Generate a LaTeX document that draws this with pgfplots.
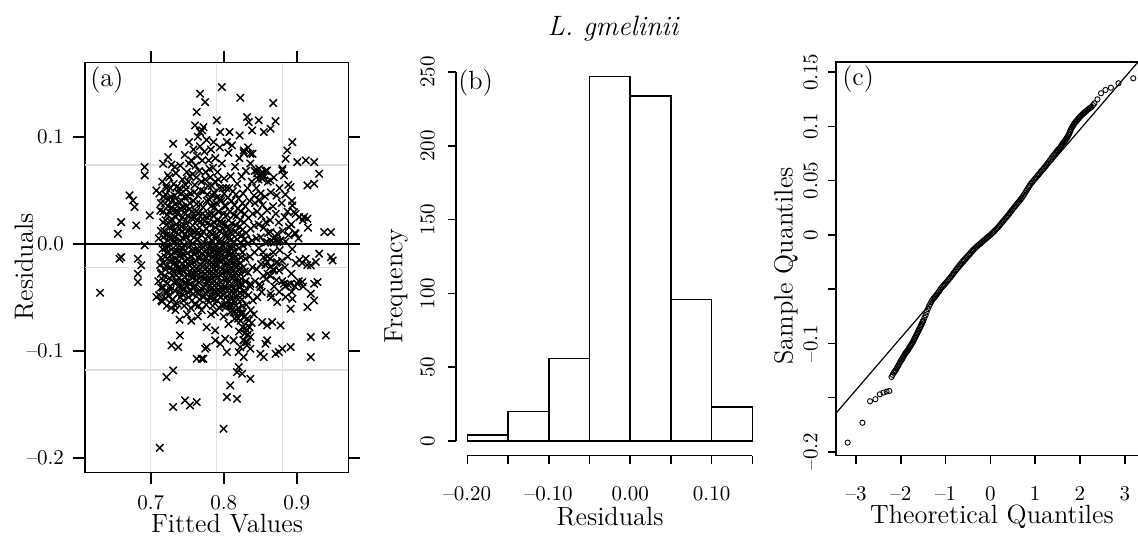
\documentclass[border=0pt]{standalone}
\usepackage{pgfplots}
\pgfplotsset{compat=1.18}
\newcommand{\tickfont}{\fontsize{10.5}{12}\selectfont}
\newcommand{\labfont}{\fontsize{13.2}{15}\selectfont}
\begin{document}
\begin{tikzpicture}
\useasboundingbox (0,0) rectangle (569pt,268pt);
\pgfplotsset{
  every axis/.append style={
    scale only axis, anchor=south west,
    axis line style={line width=0.8pt},
    tick style={black, line width=0.8pt},
    tick label style={font=\tickfont},
    tick align=outside,
  }
}

% (a) residuals against fitted values
\begin{axis}[
  at={(42.5pt,31.85pt)}, width=131.65pt, height=204.8pt,
  xmin=0.61, xmax=0.9707, ymin=-0.2136, ymax=0.1692,
  tick pos=both, major tick length=6pt,
  xtick={0.7,0.8,0.9}, xticklabels={0.7,0.8,0.9},
  ytick={-0.2,-0.1,0,0.1}, yticklabels={--0.2,--0.1,0.0,0.1},
  xticklabel shift=2pt, yticklabel shift=1pt,
]
\draw[black!12, line width=0.6pt] (axis cs:0.70,-0.2136) -- (axis cs:0.70,0.1692);
\draw[black!12, line width=0.6pt] (axis cs:0.79,-0.2136) -- (axis cs:0.79,0.1692);
\draw[black!12, line width=0.6pt] (axis cs:0.88,-0.2136) -- (axis cs:0.88,0.1692);
\draw[black!12, line width=0.6pt] (axis cs:0.61,0.0735) -- (axis cs:0.9707,0.0735);
\draw[black!12, line width=0.6pt] (axis cs:0.61,-0.0225) -- (axis cs:0.9707,-0.0225);
\draw[black!12, line width=0.6pt] (axis cs:0.61,-0.118) -- (axis cs:0.9707,-0.118);
\draw[line width=0.8pt] (axis cs:0.61,0) -- (axis cs:0.9707,0);
\addplot[only marks, mark=x, mark size=2.6pt, mark options={line width=0.72pt}] coordinates {
(0.7975,0.1464) (0.7676,0.1402) (0.7745,0.1324) (0.7630,0.1231) (0.7607,0.1106) (0.7676,0.1044) (0.7722,0.1090) (0.7906,0.1153) (0.8228,0.1364) (0.8678,0.1315)
(0.8320,0.1184) (0.8343,0.1137) (0.8480,0.1153) (0.8389,0.1059) (0.8549,0.1044) (0.8710,0.1146) (0.8641,0.1075) (0.8080,0.1044) (0.8218,0.1012) (0.7952,0.1044)
(0.8044,0.0950) (0.8113,0.0919) (0.7860,0.0950) (0.7308,0.0935) (0.7239,0.0810) (0.7170,0.0748) (0.7331,0.0717) (0.6917,0.0717) (0.6917,0.0639)
(0.8940,0.0950) (0.8871,0.0872) (0.8848,0.0794) (0.9009,0.0763) (0.9124,0.0779) (0.9239,0.0763) (0.9308,0.0654) (0.9147,0.0545) (0.9239,0.0561)
(0.8274,0.0872) (0.8366,0.0841) (0.8802,0.0685) (0.8825,0.0639)
(0.8457,0.0685) (0.8503,0.0654) (0.8549,0.0639) (0.8595,0.0685) (0.8526,0.0607) (0.8641,0.0592) (0.8917,0.0530)
(0.8940,0.0358) (0.8963,0.0296) (0.9101,0.0249) (0.9147,0.0234) (0.9377,0.0109) (0.9469,0.0109) (0.8894,0.0156) (0.8986,0.0093)
(0.9308,-0.0093) (0.9469,-0.0125) (0.9492,-0.0156) (0.9124,-0.0140) (0.9193,-0.0202) (0.9262,-0.0171)
(0.6710,0.0452) (0.6756,0.0405) (0.6779,0.0343) (0.6595,0.0202) (0.6550,0.0093) (0.6802,0.0171) (0.6986,0.0265) (0.7078,0.0498) (0.7216,0.0545)
(0.6572,-0.0140) (0.6595,-0.0125) (0.6825,-0.0140) (0.6871,-0.0202) (0.6825,-0.0280) (0.6825,-0.0358) (0.6917,-0.0015) (0.6306,-0.0458)
(0.7078,-0.0498) (0.7147,-0.0530)
(0.7400,-0.0857) (0.7285,-0.0950) (0.7377,-0.0966) (0.7745,-0.0981) (0.7630,-0.1075) (0.7699,-0.1075) (0.7883,-0.0810) (0.7883,-0.0903)
(0.7216,-0.1246) (0.7308,-0.1184) (0.7308,-0.1526) (0.7469,-0.1464) (0.7538,-0.1511) (0.7630,-0.1480) (0.7124,-0.1907)
(0.7952,-0.0935) (0.8021,-0.0888) (0.8136,-0.0903) (0.8228,-0.0966) (0.8320,-0.0919) (0.8366,-0.0981) (0.8274,-0.1059) (0.8205,-0.1012)
(0.8205,-0.1153) (0.8182,-0.1199) (0.8251,-0.1215) (0.8366,-0.1262) (0.8090,-0.1324) (0.8044,-0.1433) (0.8182,-0.1449) (0.7998,-0.1729)
(0.8044,-0.1012) (0.7768,-0.0966) (0.7722,-0.1075)
(0.8595,-0.0903) (0.8503,-0.1028) (0.8549,-0.1059) (0.8572,-0.0935) (0.8710,-0.1028) (0.8756,-0.1012) (0.8917,-0.0966) (0.8802,-0.0981)
(0.9193,-0.1059) (0.9193,-0.0872) (0.9400,-0.0857)
(0.9147,-0.0592) (0.9239,-0.0530) (0.9193,-0.0467) (0.9239,-0.0374) (0.9285,-0.0358)
(0.8825,-0.0374) (0.8917,-0.0374) (0.9009,-0.0374) (0.9078,-0.0358)
(0.8917,-0.0607) (0.8940,-0.0514) (0.8848,-0.0498) (0.8733,-0.0545) (0.8779,-0.0763) (0.8664,-0.0732) (0.8595,-0.0763) (0.8526,-0.0732)
(0.8641,-0.0467) (0.8366,-0.0374) (0.8503,-0.0405) (0.8228,-0.0374)
(0.8343,-0.0717) (0.8320,-0.0810) (0.8366,-0.0872) (0.8274,-0.0903) (0.8320,-0.0950) (0.8274,-0.0685) (0.8251,-0.0654)
(0.8641,0.0109) (0.8687,0.0047) (0.8733,0.0016) (0.8779,0.0031) (0.8733,0.0093) (0.8595,0.0016)
(0.8550,-0.0125) (0.8595,-0.0171) (0.8640,-0.0218) (0.8687,-0.0250) (0.8733,-0.0171)
(0.7115,-0.048) (0.7128,-0.020) (0.7110,0.005) (0.7132,0.031) (0.7120,0.047) (0.7105,-0.035)
(0.7158,0.058) (0.7170,0.020) (0.7162,-0.005) (0.7150,-0.027) (0.7168,-0.041) (0.7155,-0.054)
(0.7195,0.038) (0.7185,0.012) (0.7200,-0.012) (0.7190,-0.030) (0.7182,0.000) (0.7198,-0.045)
(0.7215,0.052) (0.7228,0.027) (0.7218,0.008) (0.7225,-0.008) (0.7212,-0.021) (0.7230,-0.037) (0.7220,-0.058) (0.7226,0.018)
(0.7255,0.062) (0.7245,0.041) (0.7258,0.015) (0.7248,-0.003) (0.7252,-0.016) (0.7260,-0.032) (0.7243,-0.049) (0.7250,0.030)
(0.7285,0.074) (0.7275,0.044) (0.7288,0.023) (0.7278,0.005) (0.7282,-0.010) (0.7290,-0.025) (0.7273,-0.043) (0.7280,-0.060) (0.7286,0.034)
(0.7315,0.056) (0.7305,0.031) (0.7318,0.012) (0.7308,-0.004) (0.7312,-0.019) (0.7320,-0.036) (0.7303,-0.052) (0.7310,0.001)
(0.7345,0.066) (0.7335,0.037) (0.7348,0.018) (0.7338,0.002) (0.7342,-0.014) (0.7350,-0.029) (0.7333,-0.044) (0.7340,-0.062) (0.7346,0.025)
(0.7375,0.048) (0.7365,0.028) (0.7378,0.009) (0.7368,-0.007) (0.7372,-0.023) (0.7380,-0.040) (0.7363,-0.056) (0.7370,0.016)
(0.7405,0.073) (0.7395,0.052) (0.7408,0.033) (0.7398,0.021) (0.7402,0.003) (0.7410,-0.011) (0.7393,-0.027) (0.7400,-0.038) (0.7406,-0.050) (0.7396,-0.071)
(0.7435,0.060) (0.7425,0.040) (0.7438,0.025) (0.7428,0.011) (0.7432,-0.004) (0.7440,-0.019) (0.7423,-0.034) (0.7430,-0.047)
(0.7465,0.044) (0.7455,0.029) (0.7468,0.014) (0.7458,-0.001) (0.7462,-0.016) (0.7470,-0.031) (0.7453,-0.043) (0.7460,-0.058) (0.7466,0.083)
(0.7495,0.067) (0.7485,0.051) (0.7498,0.035) (0.7488,0.019) (0.7492,0.006) (0.7500,-0.009) (0.7483,-0.024) (0.7490,-0.039) (0.7496,-0.066)
(0.7525,0.095) (0.7515,0.058) (0.7528,0.032) (0.7518,0.013) (0.7522,-0.003) (0.7530,-0.020) (0.7513,-0.035) (0.7520,-0.050) (0.7526,0.075)
(0.7555,0.078) (0.7545,0.047) (0.7558,0.024) (0.7548,0.008) (0.7552,-0.012) (0.7560,-0.028) (0.7543,-0.044) (0.7550,-0.060) (0.7556,-0.072)
(0.7585,0.088) (0.7575,0.065) (0.7588,0.040) (0.7578,0.017) (0.7582,0.000) (0.7590,-0.017) (0.7573,-0.032) (0.7580,-0.047)
(0.7615,0.073) (0.7605,0.055) (0.7618,0.030) (0.7608,0.011) (0.7612,-0.006) (0.7620,-0.023) (0.7603,-0.039) (0.7610,-0.057)
(0.7645,0.100) (0.7635,0.082) (0.7648,0.045) (0.7638,0.022) (0.7642,0.004) (0.7650,-0.013) (0.7633,-0.030) (0.7640,-0.046) (0.7646,-0.068)
(0.7675,0.091) (0.7665,0.068) (0.7678,0.037) (0.7668,0.015) (0.7672,-0.003) (0.7680,-0.020) (0.7663,-0.036) (0.7670,-0.052)
(0.7705,0.106) (0.7695,0.058) (0.7708,0.028) (0.7698,0.008) (0.7702,-0.009) (0.7710,-0.026) (0.7693,-0.042) (0.7700,-0.062) (0.7706,0.078)
(0.7735,0.086) (0.7725,0.049) (0.7738,0.021) (0.7728,0.001) (0.7732,-0.016) (0.7740,-0.033) (0.7723,-0.050)
(0.7765,0.097) (0.7755,0.067) (0.7768,0.040) (0.7758,0.014) (0.7762,-0.006) (0.7770,-0.022) (0.7753,-0.039) (0.7760,-0.057) (0.7766,-0.078)
(0.7795,0.078) (0.7785,0.054) (0.7798,0.027) (0.7788,0.007) (0.7792,-0.011) (0.7800,-0.028) (0.7783,-0.045)
(0.7825,0.088) (0.7815,0.062) (0.7828,0.035) (0.7818,0.018) (0.7822,-0.001) (0.7830,-0.018) (0.7813,-0.034) (0.7820,-0.051) (0.7826,-0.066)
(0.7855,0.071) (0.7845,0.045) (0.7858,0.026) (0.7848,0.009) (0.7852,-0.008) (0.7860,-0.024) (0.7843,-0.041) (0.7850,-0.058)
(0.7885,0.058) (0.7875,0.034) (0.7888,0.015) (0.7878,-0.002) (0.7882,-0.014) (0.7890,-0.030) (0.7873,-0.046) (0.7880,-0.064) (0.7886,0.080)
(0.7915,0.067) (0.7905,0.043) (0.7918,0.022) (0.7908,0.006) (0.7912,-0.009) (0.7920,-0.020) (0.7903,-0.037) (0.7910,-0.053)
(0.7945,0.052) (0.7935,0.030) (0.7948,0.012) (0.7938,-0.004) (0.7942,-0.016) (0.7950,-0.029) (0.7933,-0.044) (0.7940,-0.060) (0.7946,0.090)
(0.7975,0.075) (0.7965,0.040) (0.7978,0.019) (0.7968,0.002) (0.7972,-0.011) (0.7980,-0.024) (0.7963,-0.040) (0.7970,-0.057)
(0.8005,0.061) (0.7995,0.028) (0.8008,0.008) (0.7998,-0.006) (0.8002,-0.019) (0.8010,-0.033) (0.7993,-0.048) (0.8000,-0.068) (0.8006,0.047)
(0.8035,0.052) (0.8025,0.035) (0.8038,0.015) (0.8028,0.000) (0.8032,-0.013) (0.8040,-0.026) (0.8023,-0.042) (0.8030,-0.059)
(0.8065,0.085) (0.8055,0.043) (0.8068,0.022) (0.8058,0.005) (0.8062,-0.008) (0.8070,-0.021) (0.8053,-0.037) (0.8060,-0.053) (0.8066,-0.075)
(0.8095,0.063) (0.8085,0.030) (0.8098,0.010) (0.8088,-0.004) (0.8092,-0.017) (0.8100,-0.031) (0.8083,-0.047) (0.8090,-0.064)
(0.8125,0.049) (0.8115,0.019) (0.8128,0.001) (0.8118,-0.012) (0.8122,-0.026) (0.8130,-0.042) (0.8113,-0.058)
(0.8155,0.072) (0.8145,0.036) (0.8158,0.011) (0.8148,-0.007) (0.8152,-0.021) (0.8160,-0.036) (0.8143,-0.053) (0.8150,-0.070)
(0.8185,0.056) (0.8175,0.026) (0.8188,0.004) (0.8178,-0.016) (0.8182,-0.032) (0.8190,-0.048) (0.8173,-0.065)
(0.8215,0.080) (0.8205,0.042) (0.8218,0.016) (0.8208,-0.004) (0.8212,-0.024) (0.8220,-0.041) (0.8203,-0.060) (0.8210,-0.082)
(0.8245,0.063) (0.8235,0.030) (0.8248,0.008) (0.8238,-0.013) (0.8242,-0.033) (0.8250,-0.052) (0.8233,-0.072)
(0.8275,0.085) (0.8265,0.047) (0.8278,0.020) (0.8268,-0.002) (0.8272,-0.022) (0.8280,-0.044) (0.8263,-0.064) (0.8270,-0.090)
(0.8305,0.068) (0.8295,0.035) (0.8308,0.010) (0.8298,-0.014) (0.8302,-0.035) (0.8310,-0.057) (0.8293,-0.079)
(0.8335,0.090) (0.8325,0.052) (0.8338,0.024) (0.8328,0.000) (0.8332,-0.027) (0.8340,-0.048) (0.8323,-0.070) (0.8330,-0.085)
(0.8365,0.075) (0.8355,0.040) (0.8368,0.014) (0.8358,-0.012) (0.8362,-0.040) (0.8370,-0.062) (0.8353,-0.078)
(0.8395,0.084) (0.8385,0.058) (0.8398,0.028) (0.8388,0.003) (0.8392,-0.022) (0.8400,-0.053) (0.8383,-0.074)
(0.8425,0.068) (0.8415,0.045) (0.8428,0.038) (0.8418,0.017) (0.8422,-0.008) (0.8430,-0.035) (0.8413,-0.066)
(0.8455,0.066) (0.8445,0.052) (0.8458,0.030) (0.8448,0.005) (0.8452,-0.024) (0.8460,-0.050)
(0.8485,0.070) (0.8475,0.060) (0.8488,0.041) (0.8478,0.018) (0.8482,-0.004) (0.8490,-0.038)
(0.8515,0.065) (0.8505,0.047) (0.8518,0.026) (0.8508,0.006) (0.8512,-0.019) (0.8520,-0.045)
(0.8545,0.062) (0.8535,0.036) (0.8548,0.015) (0.8538,-0.008) (0.8542,-0.030)
(0.8575,0.068) (0.8565,0.044) (0.8578,0.020) (0.8568,0.001) (0.8572,-0.020) (0.8580,-0.033)
(0.8605,0.058) (0.8595,0.031) (0.8608,0.010) (0.8598,-0.012) (0.8602,-0.028)
(0.8645,0.048) (0.8635,0.022) (0.8648,0.003) (0.8638,-0.014) (0.8642,-0.030) (0.8650,-0.050)
(0.8685,0.062) (0.8675,0.035) (0.8688,0.001) (0.8678,-0.008) (0.8682,-0.024) (0.8690,-0.040)
(0.8725,0.045) (0.8715,0.028) (0.8728,0.004) (0.8718,-0.018) (0.8722,-0.034)
(0.8765,0.052) (0.8755,0.020) (0.8768,-0.006) (0.8758,-0.025) (0.8762,-0.045)
(0.8805,0.070) (0.8795,0.038) (0.8808,0.012) (0.8798,-0.016) (0.8802,-0.035)
(0.8845,0.046) (0.8835,0.025) (0.8848,0.002) (0.8838,-0.022) (0.8842,-0.040)
(0.8885,0.055) (0.8875,0.030) (0.8888,0.008) (0.8878,-0.012) (0.8882,-0.038)
(0.8935,0.040) (0.8925,0.018) (0.8938,-0.005) (0.8928,-0.028) (0.8932,-0.045)
(0.8985,0.028) (0.8975,0.010) (0.8988,-0.018) (0.8978,-0.040)
(0.9035,0.025) (0.9025,0.005) (0.9038,-0.015) (0.9028,-0.035)
(0.9085,0.022) (0.9075,-0.018) (0.9088,-0.040)
(0.9155,0.015) (0.9145,-0.020)
(0.7140,-0.041) (0.7140,-0.013) (0.7140,0.012) (0.7140,0.038) (0.7140,-0.028)
(0.7172,0.044) (0.7172,0.006) (0.7172,-0.034) (0.7172,-0.018) (0.7172,0.030)
(0.7203,0.022) (0.7203,-0.004) (0.7203,-0.024) (0.7203,0.046) (0.7203,-0.051)
(0.7235,0.035) (0.7235,0.003) (0.7235,-0.014) (0.7235,-0.045) (0.7235,0.064)
(0.7268,0.021) (0.7268,0.008) (0.7268,-0.022) (0.7268,-0.040) (0.7268,0.052)
(0.7298,0.016) (0.7298,-0.015) (0.7298,-0.030) (0.7298,0.041) (0.7298,-0.052)
(0.7327,0.045) (0.7327,0.006) (0.7327,-0.008) (0.7327,-0.025) (0.7327,-0.057)
(0.7356,0.031) (0.7356,0.011) (0.7356,-0.020) (0.7356,-0.036) (0.7356,0.053)
(0.7388,0.039) (0.7388,-0.002) (0.7388,-0.016) (0.7388,-0.032) (0.7388,-0.046)
(0.7418,0.047) (0.7418,0.016) (0.7418,-0.007) (0.7418,-0.023) (0.7418,-0.041)
(0.7447,0.034) (0.7447,0.005) (0.7447,-0.010) (0.7447,-0.026) (0.7447,-0.053)
(0.7478,0.022) (0.7478,0.009) (0.7478,-0.021) (0.7478,-0.036) (0.7478,0.055)
(0.7508,0.044) (0.7508,0.026) (0.7508,-0.014) (0.7508,-0.029) (0.7508,-0.045)
(0.7537,0.038) (0.7537,0.002) (0.7537,-0.017) (0.7537,-0.038) (0.7537,0.063)
(0.7568,0.030) (0.7568,0.012) (0.7568,-0.006) (0.7568,-0.023) (0.7568,-0.053)
(0.7597,0.048) (0.7597,0.024) (0.7597,-0.010) (0.7597,-0.028) (0.7597,-0.041)
(0.7627,0.037) (0.7627,0.004) (0.7627,-0.016) (0.7627,-0.034) (0.7627,0.062)
(0.7657,0.029) (0.7657,0.010) (0.7657,-0.007) (0.7657,-0.025) (0.7657,-0.058)
(0.7688,0.050) (0.7688,0.021) (0.7688,-0.013) (0.7688,-0.031) (0.7688,-0.045)
(0.7717,0.034) (0.7717,0.011) (0.7717,-0.003) (0.7717,-0.021) (0.7717,-0.040)
(0.7748,0.060) (0.7748,0.026) (0.7748,-0.012) (0.7748,-0.028) (0.7748,-0.046)
(0.7777,0.046) (0.7777,0.019) (0.7777,0.000) (0.7777,-0.017) (0.7777,-0.034) (0.7777,-0.052)
(0.7806,0.070) (0.7806,0.041) (0.7806,0.011) (0.7806,-0.006) (0.7806,-0.024) (0.7806,-0.040)
(0.7837,0.054) (0.7837,0.028) (0.7837,0.003) (0.7837,-0.013) (0.7837,-0.029) (0.7837,-0.046)
(0.7866,0.048) (0.7866,0.020) (0.7866,-0.005) (0.7866,-0.019) (0.7866,-0.035) (0.7866,-0.052)
(0.7897,0.038) (0.7897,0.009) (0.7897,-0.008) (0.7897,-0.025) (0.7897,-0.041)
(0.7927,0.060) (0.7927,0.030) (0.7927,0.002) (0.7927,-0.014) (0.7927,-0.031) (0.7927,-0.047)
(0.7956,0.042) (0.7956,0.021) (0.7956,-0.008) (0.7956,-0.022) (0.7956,-0.036) (0.7956,-0.050)
(0.7986,0.052) (0.7986,0.014) (0.7986,-0.002) (0.7986,-0.015) (0.7986,-0.028) (0.7986,-0.043)
(0.8016,0.036) (0.8016,0.019) (0.8016,-0.012) (0.8016,-0.025) (0.8016,-0.040) (0.8016,-0.057)
(0.8046,0.027) (0.8046,0.008) (0.8046,-0.005) (0.8046,-0.018) (0.8046,-0.033) (0.8046,-0.049)
(0.8077,0.052) (0.8077,0.014) (0.8077,-0.011) (0.8077,-0.026) (0.8077,-0.042) (0.8077,-0.058)
(0.8107,0.040) (0.8107,0.004) (0.8107,-0.009) (0.8107,-0.022) (0.8107,-0.037) (0.8107,-0.052)
(0.8137,0.027) (0.8137,-0.003) (0.8137,-0.017) (0.8137,-0.031) (0.8137,-0.047) (0.8137,-0.064)
(0.8167,0.046) (0.8167,0.017) (0.8167,-0.012) (0.8167,-0.027) (0.8167,-0.043) (0.8167,-0.058)
(0.8197,0.033) (0.8197,0.009) (0.8197,-0.020) (0.8197,-0.036) (0.8197,-0.052) (0.8197,-0.070)
(0.8227,0.022) (0.8227,0.001) (0.8227,-0.018) (0.8227,-0.028) (0.8227,-0.046) (0.8227,-0.065)
(0.8258,0.038) (0.8258,0.013) (0.8258,-0.008) (0.8258,-0.038) (0.8258,-0.058) (0.8258,-0.078)
(0.8288,0.028) (0.8288,0.004) (0.8288,-0.026) (0.8288,-0.046) (0.8288,-0.068) (0.8288,-0.084)
};
\end{axis}

% (b) histogram of residuals
\begin{axis}[
  at={(227.95pt,40.25pt)}, width=153.9pt, height=196.75pt,
  xmin=-0.214, xmax=0.164, ymin=-9.88, ymax=256.88,
  axis x line*=bottom, axis y line*=left, axis line style={draw=none},
  clip=false, major tick length=4pt,
  xtick={-0.2,-0.15,-0.1,-0.05,0,0.05,0.1,0.15},
  xticklabels={--0.20,,--0.10,,0.00,,0.10,},
  ytick={0,50,100,150,200,250},
  yticklabels={0,50,100,150,200,250},
  yticklabel style={rotate=90, anchor=south},
  xticklabel shift=8pt, yticklabel shift=3pt,
]
\draw[line width=0.8pt] (axis cs:-0.2,-9.88) -- (axis cs:0.15,-9.88);
\draw[line width=0.8pt] (axis cs:-0.214,0) -- (axis cs:-0.214,250);
\addplot[ybar interval, fill=white, draw=black, line width=0.8pt] coordinates {
(-0.20,4) (-0.15,20) (-0.10,56) (-0.05,247) (0.00,234) (0.05,96) (0.10,23) (0.15,23)
};
\end{axis}

% (c) normal Q-Q plot
\begin{axis}[
  at={(418pt,40.25pt)}, width=154.45pt, height=196.75pt,
  xmin=-3.45, xmax=3.45, ymin=-0.2034, ymax=0.1594,
  tick pos=left, major tick length=4pt,
  xtick={-3,-2,-1,0,1,2,3}, xticklabels={--3,--2,--1,0,1,2,3},
  ytick={-0.2,-0.15,-0.1,-0.05,0,0.05,0.1,0.15},
  yticklabels={--0.2,,--0.1,,0,0.05,0.1,0.15},
  yticklabel style={rotate=90, anchor=south},
  xticklabel shift=8pt, yticklabel shift=1.5pt,
]
\addplot[black, line width=0.6pt] coordinates {(-3.45,-0.1644) (3.45,0.1668)};
\addplot[only marks, mark=o, mark size=1.3pt, mark options={line width=0.45pt}] coordinates {
(-3.19,-0.1915) (-2.86,-0.1732) (-2.69,-0.1534) (-2.57,-0.1515) (-2.47,-0.1470) (-2.39,-0.1454) (-2.32,-0.1445) (-2.26,-0.1439)
(-2.21,-0.1310) (-2.185,-0.1290) (-2.16,-0.1270) (-2.14,-0.1260) (-2.12,-0.1250) (-2.10,-0.1235) (-2.08,-0.1220) (-2.06,-0.1205)
(-2.04,-0.1190) (-2.02,-0.1175) (-2.00,-0.1160) (-1.985,-0.1150) (-1.97,-0.1143) (-1.955,-0.1130) (-1.94,-0.1120) (-1.925,-0.1110)
(-1.91,-0.1098) (-1.895,-0.1090) (-1.88,-0.1080) (-1.865,-0.1073) (-1.85,-0.1067) (-1.835,-0.1056) (-1.82,-0.1045) (-1.805,-0.1035)
(-1.79,-0.1025) (-1.775,-0.1015) (-1.76,-0.1005) (-1.745,-0.0995) (-1.73,-0.0985) (-1.715,-0.0972) (-1.70,-0.0960) (-1.685,-0.0948)
(-1.67,-0.0935) (-1.655,-0.0922) (-1.64,-0.0910) (-1.625,-0.0898) (-1.61,-0.0885) (-1.595,-0.0872) (-1.58,-0.0860) (-1.565,-0.0848)
(-1.55,-0.0835) (-1.535,-0.0820) (-1.52,-0.0805) (-1.51,-0.0798) (-1.50,-0.0790)
(-1.475,-0.0765) (-1.45,-0.0740) (-1.425,-0.0712) (-1.40,-0.0685) (-1.375,-0.0660) (-1.35,-0.0640) (-1.325,-0.0620) (-1.30,-0.0602)
(-1.275,-0.0588) (-1.25,-0.0576) (-1.225,-0.0563) (-1.20,-0.0550) (-1.175,-0.0536) (-1.15,-0.0522) (-1.125,-0.0505) (-1.10,-0.0490)
(-1.075,-0.0478) (-1.05,-0.0467) (-1.025,-0.0456) (-1.00,-0.0445) (-0.975,-0.0432) (-0.95,-0.0420) (-0.925,-0.0407) (-0.90,-0.0395)
(-0.875,-0.0381) (-0.85,-0.0368) (-0.825,-0.0354) (-0.80,-0.0340) (-0.775,-0.0326) (-0.75,-0.0312) (-0.725,-0.0298) (-0.70,-0.0285)
(-0.675,-0.0272) (-0.65,-0.0260) (-0.625,-0.0247) (-0.60,-0.0235) (-0.575,-0.0224) (-0.55,-0.0213) (-0.525,-0.0201) (-0.50,-0.0190)
(-0.475,-0.0179) (-0.45,-0.0168) (-0.425,-0.0156) (-0.40,-0.0145) (-0.375,-0.0135) (-0.35,-0.0125) (-0.325,-0.0115) (-0.30,-0.0105)
(-0.275,-0.0096) (-0.25,-0.0088) (-0.225,-0.0079) (-0.20,-0.0070) (-0.175,-0.0061) (-0.15,-0.0052) (-0.125,-0.0044) (-0.10,-0.0035)
(-0.075,-0.0026) (-0.05,-0.0017) (-0.025,-0.0008) (0,0) (0.025,0.0010) (0.05,0.0020) (0.075,0.0030) (0.10,0.0040)
(0.125,0.0051) (0.15,0.0062) (0.175,0.0073) (0.20,0.0085) (0.225,0.0097) (0.25,0.0110) (0.275,0.0122) (0.30,0.0135)
(0.325,0.0147) (0.35,0.0160) (0.375,0.0172) (0.40,0.0185) (0.425,0.0198) (0.45,0.0211) (0.475,0.0225) (0.50,0.0238)
(0.525,0.0251) (0.55,0.0264) (0.575,0.0277) (0.60,0.0290) (0.625,0.0302) (0.65,0.0315) (0.675,0.0327) (0.70,0.0340)
(0.725,0.0356) (0.75,0.0372) (0.775,0.0389) (0.80,0.0405) (0.825,0.0421) (0.85,0.0438) (0.875,0.0454) (0.90,0.0470)
(0.925,0.0483) (0.95,0.0495) (0.975,0.0508) (1.00,0.0520) (1.025,0.0532) (1.05,0.0545) (1.075,0.0557) (1.10,0.0570)
(1.125,0.0582) (1.15,0.0595) (1.175,0.0607) (1.20,0.0620) (1.225,0.0632) (1.25,0.0645) (1.275,0.0657) (1.30,0.0670)
(1.325,0.0685) (1.35,0.0700) (1.375,0.0715) (1.40,0.0730) (1.425,0.0742) (1.45,0.0755) (1.475,0.0768) (1.50,0.0780)
(1.52,0.0790) (1.535,0.0795) (1.55,0.0800) (1.565,0.0810) (1.58,0.0820) (1.595,0.0830) (1.61,0.0840) (1.625,0.0848)
(1.64,0.0855) (1.655,0.0862) (1.67,0.0870) (1.685,0.0880) (1.70,0.0890) (1.715,0.0900) (1.73,0.0910) (1.745,0.0922)
(1.76,0.0935) (1.775,0.0950) (1.79,0.0965) (1.805,0.0978) (1.82,0.0990) (1.835,0.1000) (1.85,0.1010) (1.865,0.1020)
(1.88,0.1030) (1.895,0.1038) (1.91,0.1045) (1.925,0.1052) (1.94,0.1060) (1.955,0.1068) (1.97,0.1075) (1.985,0.1082)
(2.00,0.1090) (2.02,0.1098) (2.04,0.1105) (2.06,0.1112) (2.08,0.1120) (2.10,0.1128) (2.12,0.1136) (2.14,0.1143)
(2.16,0.1150) (2.185,0.1158) (2.21,0.1167) (2.235,0.1173) (2.26,0.1180) (2.29,0.1196) (2.32,0.1213)
(2.39,0.1250) (2.47,0.1306) (2.57,0.1336) (2.69,0.1357) (2.86,0.1398) (3.19,0.1444)
};
\end{axis}

% titles and axis labels
\node[font=\fontsize{14}{16}\selectfont\itshape] at (306.5pt,253.5pt) {L. gmelinii};
\node[font=\labfont, rotate=90] at (12pt,134.5pt) {Residuals};
\node[font=\labfont] at (113.5pt,6.2pt) {Fitted Values};
\node[font=\labfont, rotate=90] at (198pt,125pt) {Frequency};
\node[font=\labfont] at (305pt,9.5pt) {Residuals};
\node[font=\labfont, rotate=90] at (393pt,135pt) {Sample Quantiles};
\node[font=\labfont] at (496pt,9.5pt) {Theoretical Quantiles};
\node[font=\labfont, anchor=west, inner sep=0pt] at (45pt,228pt) {(a)};
\node[font=\labfont, anchor=west, inner sep=0pt] at (229pt,226.5pt) {(b)};
\node[font=\labfont, anchor=west, inner sep=0pt] at (421pt,228.5pt) {(c)};
\end{tikzpicture}
\end{document}
